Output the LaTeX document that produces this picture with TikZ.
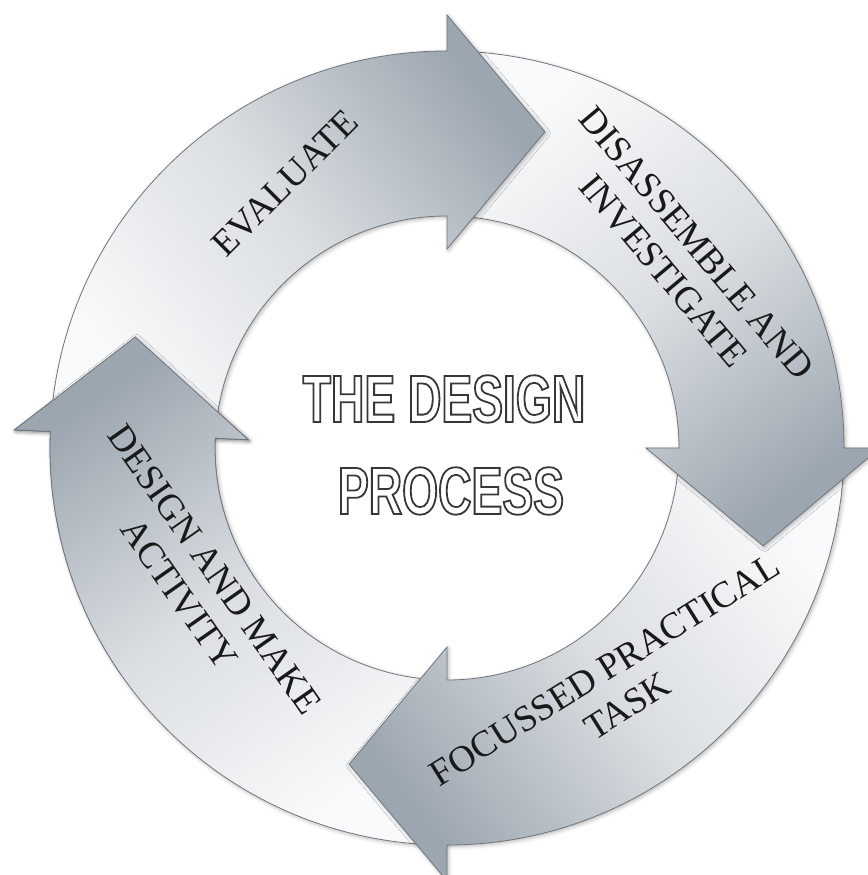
\documentclass[tikz,border=0pt]{standalone}
\usepackage{fontspec}
\setmainfont{Liberation Serif}
\newfontfamily\titlefont[FakeStretch=0.69]{Liberation Sans}
\usetikzlibrary{shadows.blur}
\definecolor{arlight}{RGB}{249,250,251}
\definecolor{armid}{RGB}{218,222,226}
\definecolor{ardark}{RGB}{156,166,176}
\definecolor{aredge}{RGB}{112,118,124}
\definecolor{labeltext}{RGB}{25,25,25}
\definecolor{titleedge}{RGB}{55,55,55}
\newcommand\outlinetext[1]{\special{pdf:literal direct 1 Tr 1.8 w}#1\special{pdf:literal direct 0 Tr}}
\newcommand\ringarrow[4]{% #1 options, #2 tail angle, #3 head base angle, #4 shading angle
  \path[arrowshape, shading angle=#4, #1]
    (#2:397bp) arc[start angle=#2, end angle=#3, radius=397bp]
    -- (#3:433bp) -- (#3-17.2:331bp) -- (#3:199bp) -- (#3:232bp)
    arc[start angle=#3, end angle=#2, radius=232bp] -- cycle;}
\begin{document}
\begin{tikzpicture}[x=1bp,y=1bp,
  arrowshape/.style={top color=ardark, bottom color=arlight, middle color=armid,
    draw=aredge, line width=0.8bp, line join=miter},
  arrowshadow/.style={blur shadow={shadow xshift=1.5bp, shadow yshift=-1.5bp,
    shadow blur radius=4bp, shadow opacity=30}},
  ringlabel/.style={font=\fontsize{37bp}{43bp}\selectfont, text=labeltext,
    align=center, inner sep=0pt},
  titlelabel/.style={font=\titlefont\bfseries\fontsize{67bp}{80bp}\selectfont,
    text=titleedge, inner sep=0pt}]
\useasboundingbox (0,0) rectangle (868,875);
\begin{scope}[shift={(447,427)}]
  \ringarrow{arrowshadow}{270}{177.6}{35.1}
  \ringarrow{arrowshadow}{360}{270}{127.5}
  \ringarrow{arrowshadow}{90}{0}{-142.5}
  \ringarrow{arrowshadow}{177.6}{90}{-52.5}
  \path[arrowshadow] (177.6:433bp) -- (160.4:331bp) -- (177.6:199bp) -- cycle;
  \begin{scope}
    \clip (0,0) -- (150:520bp) -- (180:520bp) -- (215:520bp) -- cycle;
    \ringarrow{}{270}{177.6}{35.1}
  \end{scope}
\end{scope}
\node[ringlabel, rotate=45] (evaluate) at (285,692) {EVALUATE};
\node[ringlabel, rotate=-50] (disassemble) at (680,618) {DISASSEMBLE AND\\INVESTIGATE};
\node[ringlabel, rotate=32] (focussed) at (616,187) {FOCUSSED PRACTICAL\\TASK};
\node[ringlabel, rotate=-55] (designmake) at (197,293) {DESIGN AND MAKE\\ACTIVITY};
\node[titlelabel] (title1) at (444,476) {\outlinetext{THE DESIGN}};
\node[titlelabel] (title2) at (451,384) {\outlinetext{PROCESS}};
\end{tikzpicture}
\end{document}
